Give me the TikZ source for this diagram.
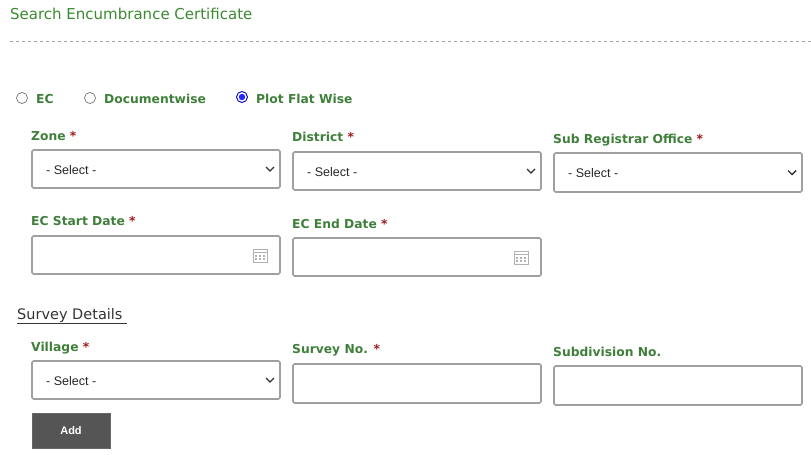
\documentclass[tikz,border=0pt]{standalone}
\usepackage{fontspec}
\setmainfont{Liberation Sans}
\newfontfamily\dvs{DejaVu Sans}
\definecolor{fgreen}{HTML}{3E7F3A}
\definecolor{tgreen}{HTML}{3A8A30}
\definecolor{ared}{HTML}{A01818}
\definecolor{bord}{HTML}{A0A0A0}
\definecolor{btn}{HTML}{555555}
\begin{document}
\begin{tikzpicture}[x=1pt,y=-1pt,
  lbl/.style={anchor=west,inner sep=0,font=\dvs\bfseries\fontsize{12.3}{14}\selectfont,text=fgreen},
  field/.style={draw=bord,line width=1.6pt,rounded corners=1.5pt},
  sel/.style={anchor=west,inner sep=0,font=\fontsize{12.5}{14}\selectfont,text=black!85},
  chev/.style={line width=1.4pt,black!80}]
\useasboundingbox (0,0) rectangle (811,455);
\node[anchor=west,inner sep=0,font=\dvs\fontsize{15}{17}\selectfont,text=tgreen] (title) at (10,14) {Search Encumbrance Certificate};
\draw[dashed,black!35] (10,41) -- (811,41);
% radios
\draw[black!55,line width=0.7pt,fill=white] (22,98) circle (5.5);
\node[lbl] (r1) at (36,99) {EC};
\draw[black!55,line width=0.7pt,fill=white] (90,98) circle (5.5);
\node[lbl] (r2) at (104,99) {Documentwise};
\draw[blue!80!black,line width=0.9pt,fill=white] (242,97) circle (5.5);
\fill[blue!85] (242,97) circle (3.2);
\node[lbl] (r3) at (256,99) {Plot Flat Wise};
% labels row 1
\node[lbl] (l1) at (31,136) {Zone \textcolor{ared}{*}};
\node[lbl] (l2) at (292,137) {District \textcolor{ared}{*}};
\node[lbl] (l3) at (553,140) {Sub Registrar Office \textcolor{ared}{*}};
\newcommand\selbox[4]{%
  \draw[field] (#1,#2) rectangle (#3,#4);
  \node[sel] at (#1+14,{(#2+#4)/2+1}) {- Select -};
  \draw[chev] (#3-14,{(#2+#4)/2-2}) -- (#3-10,{(#2+#4)/2+2}) -- (#3-6,{(#2+#4)/2-2});}
\selbox{32}{150}{280}{188}
\selbox{293}{152}{541}{190}
\selbox{554}{153}{802}{192}
% dates
\node[lbl] (l4) at (31,221) {EC Start Date \textcolor{ared}{*}};
\node[lbl] (l5) at (292,224) {EC End Date \textcolor{ared}{*}};
\newcommand\datebox[4]{%
  \draw[field] (#1,#2) rectangle (#3,#4);
  \begin{scope}[shift={(#3-20,{(#2+#4)/2})},black!30,line width=0.6pt]
   \draw (-7,-6) rectangle (7,7);
   \draw (-7,-3) -- (7,-3);
   \foreach \i in {-4,0,4}{\foreach \j in {0.5,4}{\fill (\i-1,\j-1) rectangle (\i+1,\j+1);}}
  \end{scope}}
\datebox{32}{236}{280}{274}
\datebox{293}{238}{541}{276}
% survey
\node[anchor=west,inner sep=0,font=\dvs\fontsize{14.5}{17}\selectfont,text=black!80] (sd) at (17,315) {Survey Details};
\draw[black!80,line width=0.8pt] (17,323.5) -- (127,323.5);
\node[lbl] (l6) at (31,348) {Village \textcolor{ared}{*}};
\node[lbl] (l7) at (292,350) {Survey No. \textcolor{ared}{*}};
\node[lbl] (l8) at (553,352) {Subdivision No.};
\selbox{32}{361}{280}{399}
\draw[field] (293,364) rectangle (541,403);
\draw[field] (554,366) rectangle (802,405);
\node[fill=btn,draw=black!60,line width=0.6pt,minimum width=78,minimum height=35,inner sep=0,text=white,font=\bfseries\fontsize{11}{13}\selectfont] (add) at (71,430.5) {Add};
\end{tikzpicture}
\end{document}
